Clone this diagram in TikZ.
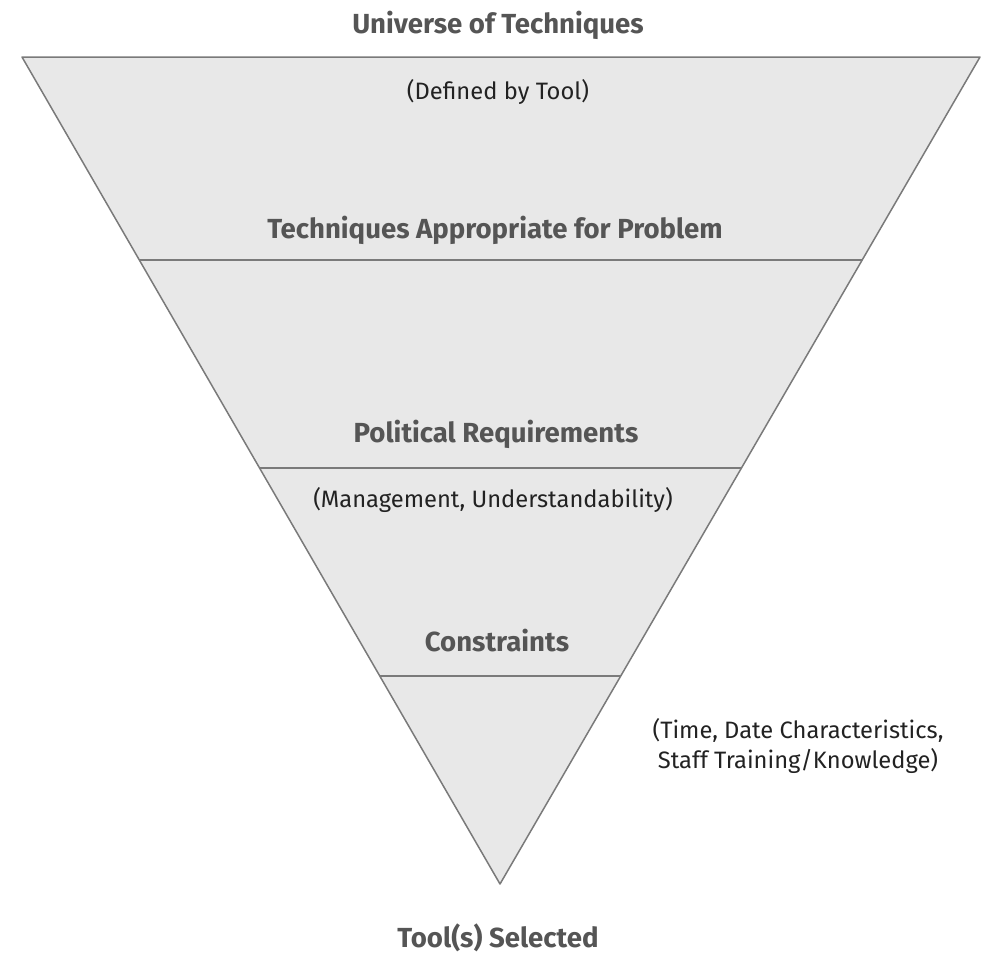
\documentclass[tikz,border=0pt]{standalone}
\usepackage{fontspec}
\setmainfont{Fira Sans}
\usetikzlibrary{calc}
\definecolor{funnelfill}{HTML}{E8E8E8}
\definecolor{funneldraw}{HTML}{7A7A7A}
\definecolor{headtext}{HTML}{555555}
\definecolor{notetext}{HTML}{222222}
\begin{document}
\begin{tikzpicture}[x=0.2mm,y=-0.2mm,line width=.3mm,
 head/.style={font=\fontsize{15.7}{18}\selectfont\bfseries,text=headtext,inner sep=0pt},
 note/.style={font=\fontsize{13.5}{17.5}\selectfont,text=notetext,inner sep=0pt,align=center}]
 \useasboundingbox (0,0) rectangle (1000,965);
 \coordinate (tl) at (22,57); \coordinate (tr) at (980,57); \coordinate (ap) at (500,884);
 \filldraw[fill=funnelfill,draw=funneldraw,line join=round] (tl) -- (tr) -- (ap) -- cycle;
 \foreach \f/\n in {0.2455/a,0.497/b,0.7485/c}{
  \coordinate (l\n) at ($(tl)!\f!(ap)$); \coordinate (r\n) at ($(tr)!\f!(ap)$);
  \draw[funneldraw] (l\n) -- (r\n);}
 \node[head] (universe) at (498,25) {Universe of Techniques};
 \node[note] (defined) at (498,92) {(Defined by Tool)};
 \node[head] (appropriate) at (495,230) {Techniques Appropriate for Problem};
 \node[head] (political) at (496,434) {Political Requirements};
 \node[note] (management) at (493,500) {(Management, Understandability)};
 \node[head] (constraints) at (497,641) {Constraints};
 \node[note] (time) at (798,746) {(Time, Date Characteristics,\\Staff Training/Knowledge)};
 \node[head] (selected) at (498,938) {Tool(s) Selected};
\end{tikzpicture}
\end{document}
